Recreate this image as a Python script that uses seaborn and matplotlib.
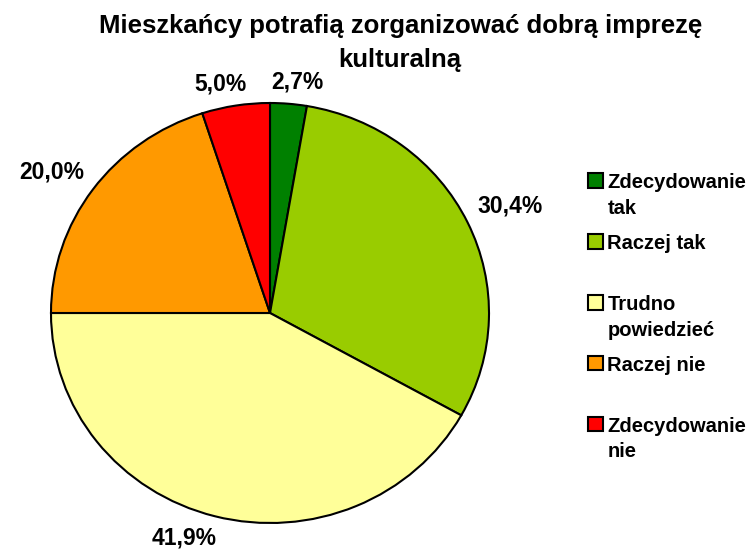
import numpy as np
import matplotlib
matplotlib.use("Agg")
import matplotlib.pyplot as plt
import seaborn as sns

sns.set_style("white")
plt.rcParams['font.family'] = ['Liberation Sans', 'DejaVu Sans']
plt.rcParams['text.color'] = 'black'

# dane
kategorie = ['Zdecydowanie\ntak', 'Raczej tak\n', 'Trudno\npowiedzieć',
             'Raczej nie\n', 'Zdecydowanie\nnie']
procenty = [2.7, 30.4, 41.9, 20.0, 5.0]
kolory = ['#008000', '#99CC00', '#FFFF99', '#FF9900', '#FF0000']
tytul = ['Mieszkańcy potrafią zorganizować dobrą imprezę', 'kulturalną']

fig = plt.figure(figsize=(7.55, 5.58), dpi=100)
ax = fig.add_axes([51/755, 35/558, 438/755, 420/558])

wedges, texts, autotexts = ax.pie(
    procenty, colors=kolory, startangle=90, counterclock=False,
    autopct=lambda p: f'{p:.1f}%'.replace('.', ','), pctdistance=1.05,
    wedgeprops=dict(edgecolor='black', linewidth=1.5))
for t in autotexts:
    t.set_fontsize(16.5)
    t.set_fontweight('bold')
    t.set_color('black')

ax.set_aspect('auto')
ax.set_xlim(-1, 1)
ax.set_ylim(-1, 1)

# tytul w dwoch liniach
fig.suptitle(tytul[0], x=0.53, y=1 - 14/558, va='top', fontsize=18.5,
             fontweight='bold', color='black')
fig.text(0.53, 1 - 48/558, tytul[1], ha='center', va='top', fontsize=18.5,
         fontweight='bold', color='black')

leg = ax.legend(wedges, kategorie, loc='upper left',
                bbox_to_anchor=(570/755, 1 - 155/558),
                bbox_transform=fig.transFigure, frameon=False,
                prop=dict(size=14.5, weight='bold'), handlelength=0.75,
                handleheight=0.75, handletextpad=0.2, labelspacing=0.8)
for t in leg.get_texts():
    t.set_linespacing(1.45)
# kwadraty na wysokosci pierwszej linii tekstu
for kol in leg._legend_handle_box.get_children():
    for wiersz in kol.get_children():
        wiersz.align = 'top'

# etykiety na zewnatrz kola, odsuniete o pol prostokata tekstu
fig.canvas.draw()
r = fig.canvas.get_renderer()
for w, t in zip(wedges, autotexts):
    kat = np.deg2rad((w.theta1 + w.theta2) / 2)
    bb = t.get_window_extent(r)
    dx = np.clip(3.4 * np.cos(kat), -1, 1) * bb.width / 2
    dy = np.clip(3.4 * np.sin(kat), -1, 1) * bb.height / 2
    p = ax.transData.transform(t.get_position()) + [dx, dy]
    t.set_position(ax.transData.inverted().transform(p))

fig.savefig('out.png', dpi=100)
